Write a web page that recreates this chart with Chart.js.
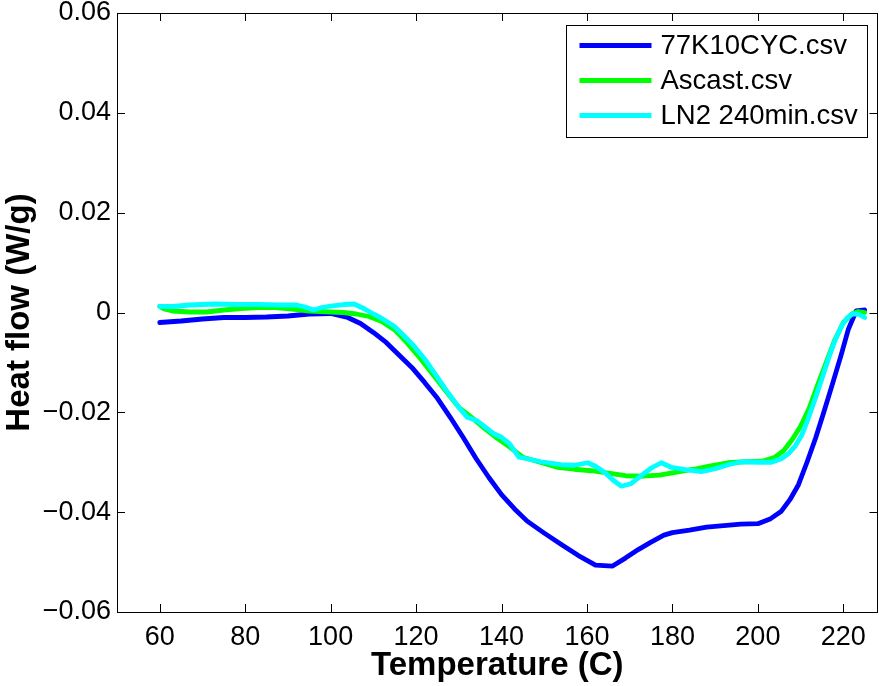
<!DOCTYPE html>
<html>
<head>
<meta charset="utf-8">
<title>Heat flow vs temperature</title>
<script src="https://cdn.jsdelivr.net/npm/chart.js@4/dist/chart.umd.min.js"></script>
<style>
  html, body { margin: 0; padding: 0; background: #ffffff; }
  #wrap { width: 879px; height: 686px; }
</style>
</head>
<body>
<div id="wrap"><canvas id="dsc" width="879" height="686"></canvas></div>
<script>
// ---- DSC scans: temperature (C) and heat flow (W/g) ----
const seriesNames = ['77K10CYC.csv', 'Ascast.csv', 'LN2 240min.csv'];
const seriesColors = ['#0000ff', '#00ff00', '#00ffff'];

const tempCyc = [60, 65, 70, 75, 80, 85, 90, 95, 100, 104, 107, 110, 113, 116, 119, 122, 125, 128, 131, 134,
  137, 140, 143, 146, 150, 154, 158, 162, 166, 169, 172, 175, 178, 180, 184, 188, 192, 196, 200, 203,
  205.5, 207.5, 209.5, 211.5, 213.5, 215.5, 217.5, 219.5, 221.2, 223, 225];
const flowCyc = [-0.0020, -0.0017, -0.0013, -0.0010, -0.0010, -0.0009, -0.0007, -0.0003, -0.0002, -0.0010,
  -0.0022, -0.0040, -0.0060, -0.0085, -0.0110, -0.0140, -0.0172, -0.0210, -0.0250, -0.0292,
  -0.0330, -0.0365, -0.0393, -0.0418, -0.0442, -0.0465, -0.0487, -0.0506, -0.0508, -0.0492,
  -0.0475, -0.0460, -0.0446, -0.0441, -0.0436, -0.0430, -0.0427, -0.0424, -0.0423, -0.0413,
  -0.0398, -0.0375, -0.0345, -0.0300, -0.0252, -0.0198, -0.0142, -0.0085, -0.0033, 0.0003, 0.0005];

const tempAscast = [60, 61, 63, 67, 71, 75, 79, 83, 87, 91, 95, 100, 103, 106, 109, 112, 115, 118, 121, 124,
  127, 130, 133, 136, 139, 142, 145, 149, 153, 157, 161, 165, 169, 173, 177, 181, 185, 189, 193, 197,
  201, 204, 206, 208, 210, 212, 214, 216, 218, 220, 222, 223.5, 225];
const flowAscast = [0.0012, 0.0007, 0.0003, 0.0001, 0.0001, 0.0005, 0.0008, 0.0010, 0.0010, 0.0007,
  0.0003, 0.0001, 0.0000, -0.0003, -0.0008, -0.0018, -0.0035, -0.0062, -0.0092, -0.0125,
  -0.0158, -0.0190, -0.0210, -0.0232, -0.0252, -0.0270, -0.0290, -0.0300, -0.0310, -0.0314,
  -0.0317, -0.0322, -0.0327, -0.0328, -0.0326, -0.0320, -0.0314, -0.0307, -0.0301, -0.0299,
  -0.0298, -0.0290, -0.0277, -0.0255, -0.0228, -0.0192, -0.0145, -0.0100, -0.0055, -0.0020,
  -0.0003, 0.0002, 0.0000];

const tempLn2 = [60, 63, 67, 73, 78, 83, 88, 92, 94, 96, 98, 100, 103, 105.5, 108, 110, 112, 114.8, 117, 119.5,
  122, 124.2, 127, 130, 132, 134.3, 136, 138.2, 140, 141.8, 144.1, 146, 149.2, 153.9, 157, 160.2, 162, 164.1,
  166, 168, 170.3, 173, 175, 177.4, 179.7, 183, 186.8, 190, 193, 196.2, 200, 203.2, 205.5, 207.1, 208.7,
  210.2, 211.8, 213.4, 215, 216.5, 218, 219.6, 221, 222, 223.5, 225];
const flowLn2 = [0.0012, 0.0012, 0.0015, 0.0017, 0.0016, 0.0016, 0.0015, 0.0015, 0.0011, 0.0005,
  0.0010, 0.0013, 0.0016, 0.0017, 0.0007, -0.0003, -0.0012, -0.0027, -0.0045, -0.0067,
  -0.0093, -0.0120, -0.0155, -0.0190, -0.0210, -0.0217, -0.0228, -0.0243, -0.0250, -0.0262,
  -0.0290, -0.0293, -0.0299, -0.0305, -0.0306, -0.0301, -0.0308, -0.0320, -0.0335, -0.0348,
  -0.0343, -0.0325, -0.0312, -0.0301, -0.0310, -0.0315, -0.0319, -0.0313, -0.0305, -0.0299,
  -0.0300, -0.0300, -0.0293, -0.0283, -0.0268, -0.0247, -0.0212, -0.0173, -0.0132, -0.0093,
  -0.0057, -0.0027, -0.0010, -0.0003, -0.0003, -0.0010];

const xTickValues = [60, 80, 100, 120, 140, 160, 180, 200, 220];
const yTickValues = [-0.06, -0.04, -0.02, 0, 0.02, 0.04, 0.06];
const yTickLabels = ['\u22120.06', '\u22120.04', '\u22120.02', '0', '0.02', '0.04', '0.06'];

const FONT = '"Liberation Sans", Arial, Helvetica, sans-serif';

function toPoints(xs, ys) {
  return xs.map((x, i) => ({ x: x, y: ys[i] }));
}

const datasets = [
  { label: seriesNames[0], data: toPoints(tempCyc, flowCyc), borderColor: seriesColors[0], order: 2 },
  { label: seriesNames[1], data: toPoints(tempAscast, flowAscast), borderColor: seriesColors[1], order: 1 },
  { label: seriesNames[2], data: toPoints(tempLn2, flowLn2), borderColor: seriesColors[2], order: 0 }
].map(d => Object.assign(d, {
  borderWidth: 4.8, pointRadius: 0, tension: 0, fill: false,
  borderCapStyle: 'round', borderJoinStyle: 'round'
}));

// Box around the plot, inward tick marks on all four sides, and the boxed legend.
const frameAndLegend = {
  id: 'frameAndLegend',
  afterDatasetsDraw(chart) {
    const ctx = chart.ctx;
    const a = chart.chartArea;
    const xs = chart.scales.x, ys = chart.scales.y;
    const tl = 8;
    ctx.save();
    ctx.strokeStyle = '#000';
    ctx.lineWidth = 1;
    ctx.beginPath();
    xs.ticks.forEach(t => {
      const px = Math.round(xs.getPixelForValue(t.value)) + 0.5;
      ctx.moveTo(px, a.bottom); ctx.lineTo(px, a.bottom - tl);
      ctx.moveTo(px, a.top); ctx.lineTo(px, a.top + tl);
    });
    ys.ticks.forEach(t => {
      const py = Math.round(ys.getPixelForValue(t.value)) + 0.5;
      ctx.moveTo(a.left, py); ctx.lineTo(a.left + tl, py);
      ctx.moveTo(a.right, py); ctx.lineTo(a.right - tl, py);
    });
    ctx.stroke();
    ctx.strokeRect(Math.round(a.left) + 0.5, Math.round(a.top) + 0.5,
      Math.round(a.right - a.left) - 1, Math.round(a.bottom - a.top));

    // legend
    const w = 301, h = 112;
    const lx = Math.round(a.right - 11 - w) + 0.5;
    const ly = Math.round(a.top + 12) + 0.5;
    ctx.fillStyle = '#fff';
    ctx.fillRect(lx, ly, w, h);
    ctx.strokeRect(lx, ly, w, h);
    ctx.font = '27.5px ' + FONT;
    ctx.textBaseline = 'middle';
    ctx.textAlign = 'left';
    chart.data.datasets.forEach((d, i) => {
      const ry = ly + 20 + i * 35;
      ctx.strokeStyle = d.borderColor;
      ctx.lineWidth = 5;
      ctx.lineCap = 'butt';
      ctx.beginPath();
      ctx.moveTo(lx + 13, ry); ctx.lineTo(lx + 85, ry);
      ctx.stroke();
      ctx.fillStyle = '#000';
      ctx.fillText(d.label, lx + 94, ry + 1);
    });
    ctx.restore();
  }
};

new Chart(document.getElementById('dsc'), {
  type: 'line',
  data: { datasets: datasets },
  plugins: [frameAndLegend],
  options: {
    responsive: false,
    animation: false,
    devicePixelRatio: 1,
    layout: { padding: { top: 13, right: 1.5, left: 0, bottom: 0 } },
    plugins: { legend: { display: false }, tooltip: { enabled: false } },
    scales: {
      x: {
        type: 'linear', min: 50, max: 228,
        afterBuildTicks: s => { s.ticks = xTickValues.map(v => ({ value: v })); },
        afterFit: s => { s.height = 74; s.paddingLeft = 0; s.paddingRight = 0; },
        grid: { drawOnChartArea: false, drawTicks: false },
        border: { display: false },
        ticks: { color: '#000', padding: 9, maxRotation: 0, autoSkip: false,
          font: { family: FONT, size: 27 }, callback: v => String(v) },
        title: { display: true, text: 'Temperature (C)', color: '#000',
          font: { family: FONT, size: 33, weight: 'bold' }, padding: { top: 0, bottom: 0 } }
      },
      y: {
        type: 'linear', min: -0.06, max: 0.06,
        afterBuildTicks: s => { s.ticks = yTickValues.map(v => ({ value: v })); },
        afterFit: s => { s.width = 117; s.paddingTop = 0; s.paddingBottom = 0; },
        grid: { drawOnChartArea: false, drawTicks: false },
        border: { display: false },
        ticks: { color: '#000', padding: 6, autoSkip: false,
          font: { family: FONT, size: 27 },
          callback: (v) => { const i = yTickValues.findIndex(t => Math.abs(t - v) < 1e-9); return i >= 0 ? yTickLabels[i] : ''; } },
        title: { display: true, text: 'Heat flow (W/g)', color: '#000',
          font: { family: FONT, size: 33, weight: 'bold' }, padding: { top: 0, bottom: 0 } }
      }
    }
  }
});
</script>
</body>
</html>
